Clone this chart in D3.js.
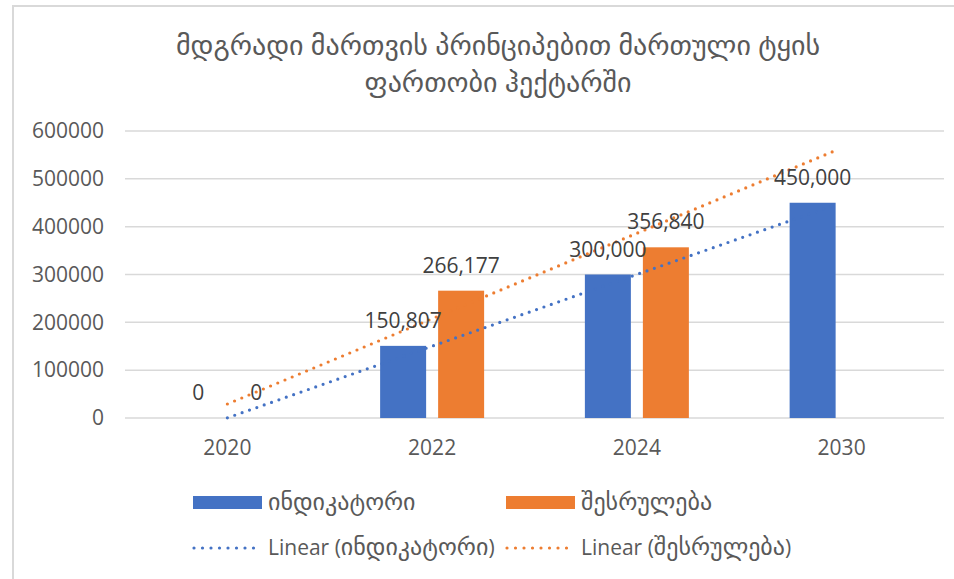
<!DOCTYPE html>
<html>
<head>
<meta charset="utf-8">
<script src="https://cdn.jsdelivr.net/npm/d3@7"></script>
<style>
  html, body { margin: 0; padding: 0; background: #fff; }
  svg text { font-family: "Open Sans", "DejaVu Sans", sans-serif; }
</style>
</head>
<body>
<svg id="chart" width="954" height="579"></svg>
<script>
// Forest area under sustainable management (hectares)
const titleLines = ["მდგრადი მართვის პრინციპებით მართული ტყის", "ფართობი ჰექტარში"];
const years = ["2020", "2022", "2024", "2030"];
const indicatorValues = [0, 150807, 300000, 450000];
const performanceValues = [0, 266177, 356840, null];
const seriesNames = ["ინდიკატორი", "შესრულება"];
const seriesColors = ["#4472C4", "#ED7D31"];
const yTicks = [0, 100000, 200000, 300000, 400000, 500000, 600000];

const svg = d3.select("#chart");
const W = 954, H = 579;
const plot = { left: 125, right: 944, top: 131, bottom: 418 };
const numFont = "'Open Sans', sans-serif";

// chart frame
svg.append("path")
  .attr("d", `M13,${H + 2} L13,6 L${W + 2},6`)
  .attr("fill", "none").attr("stroke", "#d9d9d9").attr("stroke-width", 2);

// title
svg.append("g").selectAll("text").data(titleLines).join("text")
  .attr("x", 498).attr("y", (d, i) => 55 + i * 37)
  .attr("text-anchor", "middle")
  .attr("font-size", 28).attr("fill", "#595959")
  .text(d => d);

const x = d3.scaleBand().domain(years).range([plot.left, plot.right]);
const y = d3.scaleLinear().domain([0, 600000]).range([plot.bottom, plot.top]);

// horizontal gridlines
svg.append("g").selectAll("line").data(yTicks).join("line")
  .attr("x1", plot.left).attr("x2", plot.right)
  .attr("y1", d => y(d)).attr("y2", d => y(d))
  .attr("stroke", "#d9d9d9").attr("stroke-width", 1.5);

// y axis labels
const yAxis = svg.append("g").attr("transform", `translate(104,0)`)
  .call(d3.axisLeft(y).tickValues(yTicks).tickSize(0).tickPadding(0).tickFormat(d3.format("d")));
yAxis.select(".domain").remove();
yAxis.selectAll("text").attr("font-size", 21).attr("fill", "#595959")
  .attr("font-family", numFont);

// x axis labels
const xAxis = svg.append("g").attr("transform", `translate(0,${plot.bottom})`)
  .call(d3.axisBottom(x).tickSize(0).tickPadding(22));
xAxis.select(".domain").remove();
xAxis.selectAll("text").attr("font-size", 21).attr("fill", "#595959")
  .attr("font-family", numFont);

// grouped bars
const barW = 46, barGap = 12;
const inner = d3.scaleOrdinal().domain([0, 1])
  .range([x.bandwidth() / 2 - barW - barGap / 2, x.bandwidth() / 2 + barGap / 2]);
const seriesData = [indicatorValues, performanceValues];

seriesData.forEach((vals, s) => {
  const pts = years.map((yr, i) => ({ yr, v: vals[i] })).filter(d => d.v !== null);
  svg.append("g").selectAll("rect").data(pts).join("rect")
    .attr("x", d => x(d.yr) + inner(s))
    .attr("y", d => y(d.v))
    .attr("width", barW)
    .attr("height", d => y(0) - y(d.v))
    .attr("fill", seriesColors[s]);
});

// linear trendlines (least squares over category index)
function fitLine(vals) {
  const pts = vals.map((v, i) => [i + 1, v]).filter(p => p[1] !== null);
  const mx = d3.mean(pts, p => p[0]), my = d3.mean(pts, p => p[1]);
  const slope = d3.sum(pts, p => (p[0] - mx) * (p[1] - my)) / d3.sum(pts, p => (p[0] - mx) ** 2);
  return k => my + slope * (k - mx);
}
const idx = d3.scaleLinear().domain([1, years.length])
  .range([x(years[0]) + x.bandwidth() / 2, x(years[years.length - 1]) + x.bandwidth() / 2]);
seriesData.forEach((vals, s) => {
  const f = fitLine(vals);
  const k0 = 1, k1 = years.length - 0.02;
  svg.append("line")
    .attr("x1", idx(k0)).attr("y1", y(f(k0)))
    .attr("x2", idx(k1)).attr("y2", y(f(k1)))
    .attr("stroke", seriesColors[s]).attr("stroke-width", 3.2)
    .attr("stroke-linecap", "round").attr("stroke-dasharray", "0 7.8");
});

// data labels
const fmt = d3.format(",");
seriesData.forEach((vals, s) => {
  const pts = years.map((yr, i) => ({ yr, v: vals[i] })).filter(d => d.v !== null);
  svg.append("g").selectAll("text").data(pts).join("text")
    .attr("x", d => x(d.yr) + inner(s) + barW / 2)
    .attr("y", d => y(d.v) - 18)
    .attr("text-anchor", "middle")
    .attr("font-size", 21).attr("fill", "#404040")
    .attr("font-family", numFont)
    .text(d => fmt(d.v));
});

// legend
const legendCols = [193, 506];
const lg = svg.append("g");
seriesNames.forEach((name, s) => {
  lg.append("rect").attr("x", legendCols[s]).attr("y", 496)
    .attr("width", 69).attr("height", 13).attr("fill", seriesColors[s]);
  lg.append("text").attr("x", legendCols[s] + 75).attr("y", 510)
    .attr("font-size", 24).attr("fill", "#595959").text(name);
  lg.append("line").attr("x1", legendCols[s] + 1).attr("x2", legendCols[s] + 69)
    .attr("y1", 548).attr("y2", 548)
    .attr("stroke", seriesColors[s]).attr("stroke-width", 3.2)
    .attr("stroke-linecap", "round").attr("stroke-dasharray", "0 8.5");
  const t = lg.append("text").attr("x", legendCols[s] + 75).attr("y", 555)
    .attr("font-size", 21).attr("fill", "#595959");
  t.append("tspan").text("Linear (");
  t.append("tspan").attr("font-size", 24).text(name);
  t.append("tspan").text(")");
});
</script>
</body>
</html>
